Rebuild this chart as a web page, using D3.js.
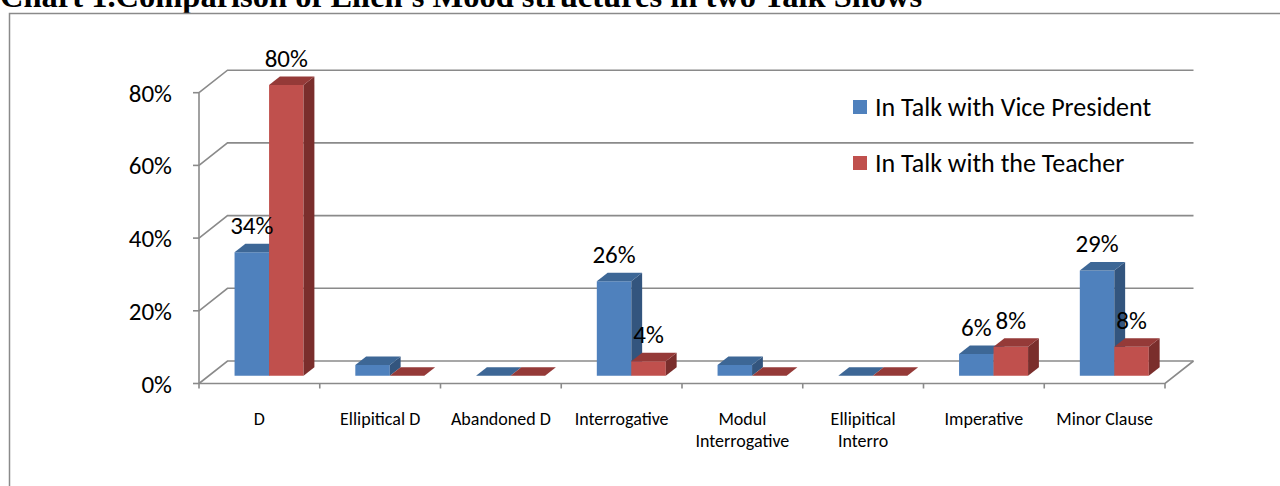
<!DOCTYPE html>
<html>
<head>
<meta charset="utf-8">
<script src="https://cdn.jsdelivr.net/npm/d3@7"></script>
<style>
  body { margin: 0; background: #fff; }
  svg { display: block; }
  text { font-family: Calibri, Carlito, Lato, sans-serif; fill: #000; }
</style>
</head>
<body>
<svg id="chart" width="1280" height="486"></svg>
<script>
// data
const categories = ['D', 'Ellipitical D', 'Abandoned D', 'Interrogative', 'Modul Interrogative', 'Ellipitical Interro', 'Imperative', 'Minor Clause'];
const seriesNames = ['In Talk with Vice President', 'In Talk with the Teacher'];
const vicePresident = [0.34, 0.03, 0, 0.26, 0.03, 0, 0.06, 0.29];
const teacher = [0.80, 0, 0, 0.04, 0, 0, 0.08, 0.08];
const yTicks = [0, 0.2, 0.4, 0.6, 0.8];

const palette = {
  front: ['#4F81BD', '#C0504D'],
  top: ['#3D6796', '#953A38'],
  side: ['#33557E', '#7A2E2C']
};
const lineColor = '#8A8A8A';

const svg = d3.select('#chart');

// title (cut off at the top in the original)
svg.append('text')
    .attr('x', 0)
    .attr('y', 7)
    .style('font-family', '"Liberation Serif", "Times New Roman", serif')
    .style('font-weight', 'bold')
    .style('font-size', '32.5px')
    .text("Chart 1.Comparison of Ellen's Mood structures in two Talk Shows");

// outer frame
svg.append('rect')
    .attr('x', 9.5)
    .attr('y', 13.5)
    .attr('width', 1290)
    .attr('height', 500)
    .attr('fill', 'none')
    .attr('stroke', lineColor)
    .attr('stroke-width', 1.5);

// 3d geometry: depth goes up and to the right
const DX = 28.5, DY = 22.5;
const x0 = 199, x1 = 1165;
const yBase = 383.5;

const x = d3.scaleBand().domain(categories).range([x0, x1]);
const xs = d3.scaleBand().domain([0, 1]).range([0, x.bandwidth()]).paddingOuter(0.75);
const y = d3.scaleLinear().domain([0, 0.8]).range([yBase, 92.7]);

const p = (px, py, d) => [px + d * DX, py - d * DY];
const line = d3.line();

const grid = svg.append('g')
    .attr('fill', 'none')
    .attr('stroke', lineColor)
    .attr('stroke-width', 1.6);

// back wall gridlines + left wall diagonals
yTicks.forEach(t => {
  grid.append('path').attr('d', line([p(x0, y(t), 0), p(x0, y(t), 1), p(x1, y(t), 1)]));
  grid.append('path').attr('d', line([[x0 - 6, y(t)], [x0, y(t)]]));
});
// front axis, floor front edge, right floor edge
grid.append('path').attr('d', line([[x0, y(0.8)], [x0, yBase]]));
grid.append('path').attr('d', line([[x0, yBase], [x1, yBase], p(x1, yBase, 1)]));
// category ticks
d3.range(categories.length + 1).forEach(i => {
  const tx = x0 + i * x.step();
  grid.append('path').attr('d', line([[tx, yBase], [tx, yBase + 5]]));
});

// y axis labels
svg.append('g').selectAll('text')
    .data(yTicks)
    .join('text')
    .attr('x', 172)
    .attr('y', d => y(d))
    .attr('dy', '0.36em')
    .attr('text-anchor', 'end')
    .style('font-size', '25px')
    .text(d3.format('.0%'));

// category labels, wrapped like the original
const wrap = {
  'Modul Interrogative': ['Modul', 'Interrogative'],
  'Ellipitical Interro': ['Ellipitical', 'Interro']
};
const catG = svg.append('g').selectAll('text')
    .data(categories)
    .join('text')
    .attr('x', d => x(d) + x.bandwidth() / 2)
    .attr('y', 425)
    .attr('text-anchor', 'middle')
    .style('font-size', '18px');
catG.each(function(d) {
  const lines = wrap[d] || [d];
  d3.select(this).selectAll('tspan')
      .data(lines)
      .join('tspan')
      .attr('x', x(d) + x.bandwidth() / 2)
      .attr('dy', (l, i) => i ? 22 : 0)
      .text(l => l);
});

// bars
const dFront = 0.34, dBack = 0.72;
const bars = [];
categories.forEach((c, i) => {
  [vicePresident[i], teacher[i]].forEach((v, s) => {
    const bx = x(c) + xs(s);
    bars.push({ c, s, v, bx, bw: xs.bandwidth() });
  });
});

const barG = svg.append('g');
bars.forEach(b => {
  const l = b.bx, r = b.bx + b.bw, top = y(b.v), bot = y(0);
  const g = barG.append('g');
  if (b.v > 0) {
    g.append('path')
        .attr('d', line([p(l, bot, dFront), p(r, bot, dFront), p(r, top, dFront), p(l, top, dFront)]) + 'Z')
        .attr('fill', palette.front[b.s]);
    g.append('path')
        .attr('d', line([p(r, bot, dFront), p(r, bot, dBack), p(r, top, dBack), p(r, top, dFront)]) + 'Z')
        .attr('fill', palette.side[b.s]);
  }
  g.append('path')
      .attr('d', line([p(l, top, dFront), p(r, top, dFront), p(r, top, dBack), p(l, top, dBack)]) + 'Z')
      .attr('fill', palette.top[b.s]);
});

// data labels (the original only labels the visible values)
svg.append('g').selectAll('text')
    .data(bars.filter(b => b.v > 0.035))
    .join('text')
    .attr('x', b => p(b.bx + b.bw / 2, 0, dFront)[0])
    .attr('y', b => p(0, y(b.v), dFront)[1] - 18)
    .attr('text-anchor', 'middle')
    .style('font-size', '25px')
    .text(b => d3.format('.0%')(b.v));

// legend
const leg = svg.append('g').selectAll('g')
    .data(seriesNames)
    .join('g')
    .attr('transform', (d, i) => `translate(853,${107 + i * 56})`);
leg.append('rect')
    .attr('x', 0).attr('y', -7)
    .attr('width', 14).attr('height', 14)
    .attr('fill', (d, i) => palette.front[i]);
leg.append('text')
    .attr('x', 22)
    .attr('dy', '0.36em')
    .style('font-size', '26px')
    .text(d => d);
</script>
</body>
</html>
